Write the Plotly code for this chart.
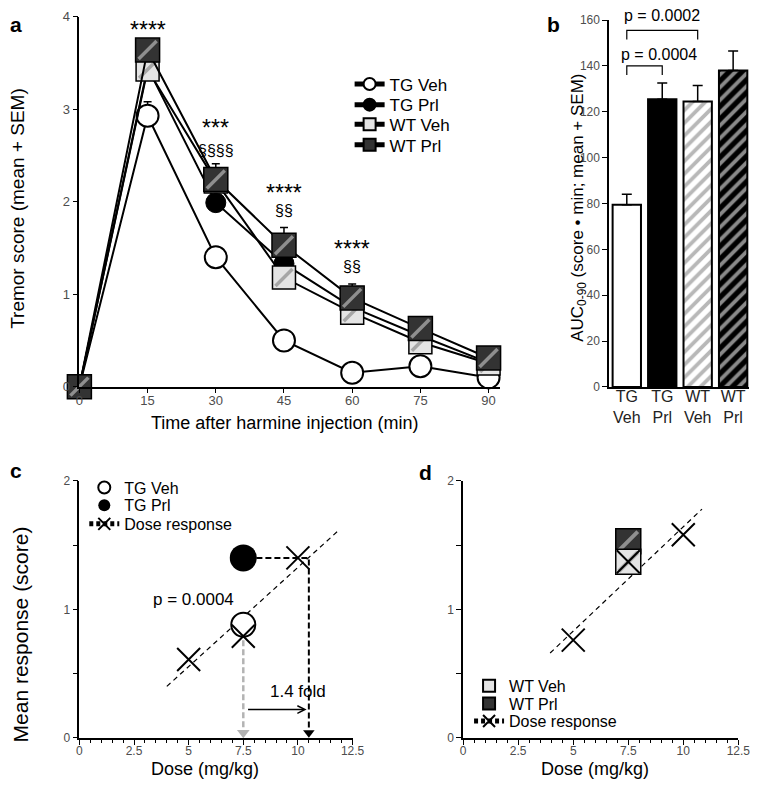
import plotly.graph_objects as go

W, H = 765, 788
FONT = "Liberation Sans, Arial, sans-serif"

# ---------------- Panel a data ----------------
time_min = [0, 15, 30, 45, 60, 75, 90]
tg_veh = [0, 2.93, 1.40, 0.50, 0.15, 0.22, 0.10]
tg_prl = [0, 3.45, 1.99, 1.33, 0.86, 0.55, 0.26]
wt_veh = [0, 3.43, 2.22, 1.18, 0.80, 0.48, 0.25]
wt_prl = [0, 3.64, 2.24, 1.53, 0.96, 0.63, 0.31]
tg_veh_sem = [0, 0.15, 0.05, 0.04, 0.03, 0.03, 0.02]
wt_prl_sem = [0, 0.08, 0.17, 0.19, 0.15, 0.06, 0.05]
star_x = [15, 30, 45, 60]
star_y = [3.90, 2.84, 2.14, 1.53]
star_text = ["****", "***", "****", "****"]
sect_x = [30, 45, 60]
sect_y = [2.55, 1.90, 1.30]
sect_text = ["§§§§", "§§", "§§"]

# ---------------- Panel b data ----------------
groups = ["TG<br>Veh", "TG<br>Prl", "WT<br>Veh", "WT<br>Prl"]
auc = [79.5, 125.5, 124.5, 138.0]
auc_sem = [4.5, 7.0, 7.0, 8.5]
bracket1_y = [136, 140, 140, 136]
bracket2_y = [151.5, 155.5, 155.5, 151.5]
p_texts = ["p = 0.0004", "p = 0.0002"]

# ---------------- Panel c data ----------------
dose_c = [5, 7.5, 10]
resp_c = [0.61, 0.79, 1.40]
tgveh_c_dose, tgveh_c_resp = [7.5], [0.88]
tgprl_c_dose, tgprl_c_resp = [7.5], [1.40]
fit_c_x = [4.0, 11.9]
fit_c_y = [0.40, 1.62]
equiv_dose = 10.5
gray_drop_x = [7.5, 7.5]
gray_drop_y = [0.76, 0.07]
black_path_x = [8.1, 10.5, 10.5]
black_path_y = [1.40, 1.40, 0.07]
fold_arrow_x = [7.65, 10.4]
fold_arrow_y = 0.22

# ---------------- Panel d data ----------------
dose_d = [5, 7.5, 10]
resp_d = [0.76, 1.37, 1.58]
wtveh_d_dose, wtveh_d_resp = [7.5], [1.37]
wtprl_d_dose, wtprl_d_resp = [7.5], [1.53]
fit_d_x = [3.95, 10.85]
fit_d_y = [0.66, 1.78]


def dx(p0, p1):
    return [p0 / W, p1 / W]


def dy(pb, pt):
    return [1 - pb / H, 1 - pt / H]


fig = go.Figure()

# ---------- Panel a traces ----------
ax_a = dict(xaxis="x", yaxis="y", cliponaxis=False)
fig.add_trace(go.Scatter(x=time_min, y=tg_veh, name="TG Veh", mode="lines+markers", legend="legend",
                         line=dict(color="black", width=2),
                         marker=dict(symbol="circle", size=22, color="white",
                                     line=dict(color="black", width=2)),
                         error_y=dict(type="data", array=tg_veh_sem, arrayminus=[0] * 7,
                                      symmetric=False, color="black", thickness=1.5, width=4),
                         **ax_a))
fig.add_trace(go.Scatter(x=time_min, y=tg_prl, name="TG Prl", mode="lines+markers", legend="legend2",
                         line=dict(color="black", width=2),
                         marker=dict(symbol="circle", size=20, color="black",
                                     line=dict(color="black", width=1)),
                         **ax_a))
fig.add_trace(go.Scatter(x=time_min, y=wt_veh, name="WT Veh", mode="lines+markers", legend="legend3",
                         line=dict(color="black", width=2),
                         marker=dict(symbol="square", size=23, color="#e4e4e4",
                                     line=dict(color="black", width=1.5)),
                         **ax_a))
fig.add_trace(go.Scatter(x=time_min, y=wt_veh, mode="markers", showlegend=False,
                         marker=dict(symbol="line-ne", size=17,
                                     line=dict(color="#a6a6a6", width=3.5)),
                         hoverinfo="skip", **ax_a))
fig.add_trace(go.Scatter(x=time_min, y=wt_prl, name="WT Prl", mode="lines+markers", legend="legend4",
                         line=dict(color="black", width=2),
                         marker=dict(symbol="square", size=24, color="#333333",
                                     line=dict(color="black", width=1.5)),
                         error_y=dict(type="data", array=wt_prl_sem, arrayminus=[0] * 7,
                                      symmetric=False, color="black", thickness=1.5, width=4),
                         **ax_a))
fig.add_trace(go.Scatter(x=time_min, y=wt_prl, mode="markers", showlegend=False,
                         marker=dict(symbol="line-ne", size=18,
                                     line=dict(color="#8f8f8f", width=3.5)),
                         hoverinfo="skip", **ax_a))

# ---------- Panel b traces ----------
bar_bg = ["white", "black", "white", "black"]
bar_shape = ["", "", "/", "/"]
bar_fg = ["black", "black", "#b8b8b8", "#8a8a8a"]
for i, g in enumerate(groups):
    fig.add_trace(go.Bar(x=[g], y=[auc[i]], width=0.8, showlegend=False,
                         marker=dict(color=bar_bg[i], line=dict(color="black", width=2),
                                     pattern=dict(shape=bar_shape[i], fgcolor=bar_fg[i],
                                                  bgcolor=bar_bg[i], size=9, solidity=0.42,
                                                  fillmode="replace")),
                         error_y=dict(type="data", array=[auc_sem[i]], arrayminus=[0],
                                      symmetric=False, color="black", thickness=1.5, width=5),
                         xaxis="x2", yaxis="y2"))
fig.add_trace(go.Scatter(x=[groups[0], groups[0], groups[1], groups[1]], y=bracket1_y,
                         mode="lines", line=dict(color="black", width=1.2),
                         showlegend=False, xaxis="x2", yaxis="y2", hoverinfo="skip"))
fig.add_trace(go.Scatter(x=[groups[0], groups[0], groups[2], groups[2]], y=bracket2_y,
                         mode="lines", line=dict(color="black", width=1.2),
                         showlegend=False, xaxis="x2", yaxis="y2", hoverinfo="skip"))

# ---------- Panel c traces ----------
ax_c = dict(xaxis="x3", yaxis="y3", cliponaxis=False)
fig.add_trace(go.Scatter(x=fit_c_x, y=fit_c_y, mode="lines", showlegend=False,
                         line=dict(color="black", width=1.2, dash="5px,4px"), **ax_c))
fig.add_trace(go.Scatter(x=gray_drop_x, y=gray_drop_y, mode="lines", showlegend=False,
                         line=dict(color="#b3b3b3", width=2.5, dash="6px,3px"), **ax_c))
fig.add_trace(go.Scatter(x=[gray_drop_x[1]], y=[0.04], mode="markers", showlegend=False,
                         marker=dict(symbol="triangle-down", size=11, color="#b3b3b3"), **ax_c))
fig.add_trace(go.Scatter(x=black_path_x, y=black_path_y, mode="lines", showlegend=False,
                         line=dict(color="black", width=2, dash="6px,3px"), **ax_c))
fig.add_trace(go.Scatter(x=[equiv_dose], y=[0.04], mode="markers", showlegend=False,
                         marker=dict(symbol="triangle-down", size=10, color="black"), **ax_c))
fig.add_trace(go.Scatter(x=tgveh_c_dose, y=tgveh_c_resp, name="TG Veh", mode="markers",
                         legend="legend5",
                         marker=dict(symbol="circle", size=24, color="white",
                                     line=dict(color="black", width=2)), **ax_c))
fig.add_trace(go.Scatter(x=tgprl_c_dose, y=tgprl_c_resp, name="TG Prl", mode="markers",
                         legend="legend6",
                         marker=dict(symbol="circle", size=27, color="black"), **ax_c))
fig.add_trace(go.Scatter(x=dose_c, y=resp_c, mode="markers", showlegend=False,
                         marker=dict(symbol="x-thin", size=23, color="black",
                                     line=dict(color="black", width=2)), **ax_c))
fig.add_trace(go.Scatter(x=[None], y=[None], name="Dose response", mode="lines+markers",
                         legend="legend7",
                         line=dict(color="black", width=1, dash="4px,3px"),
                         marker=dict(symbol="x-thin", size=12, color="black",
                                     line=dict(color="black", width=2)), **ax_c))

# ---------- Panel d traces ----------
ax_d = dict(xaxis="x4", yaxis="y4", cliponaxis=False)
fig.add_trace(go.Scatter(x=fit_d_x, y=fit_d_y, mode="lines", showlegend=False,
                         line=dict(color="black", width=1.2, dash="5px,4px"), **ax_d))
fig.add_trace(go.Scatter(x=wtprl_d_dose, y=wtprl_d_resp, name="WT Prl", mode="markers",
                         legend="legend9",
                         marker=dict(symbol="square", size=25, color="#333333",
                                     line=dict(color="black", width=1.5)), **ax_d))
fig.add_trace(go.Scatter(x=wtprl_d_dose, y=wtprl_d_resp, mode="markers", showlegend=False,
                         marker=dict(symbol="line-ne", size=19, line=dict(color="#8f8f8f", width=4)),
                         **ax_d))
fig.add_trace(go.Scatter(x=wtveh_d_dose, y=wtveh_d_resp, name="WT Veh", mode="markers",
                         legend="legend8",
                         marker=dict(symbol="square", size=25, color="#e4e4e4",
                                     line=dict(color="black", width=1.5)), **ax_d))
fig.add_trace(go.Scatter(x=wtveh_d_dose, y=wtveh_d_resp, mode="markers", showlegend=False,
                         marker=dict(symbol="line-ne", size=19, line=dict(color="#a6a6a6", width=4)),
                         **ax_d))
fig.add_trace(go.Scatter(x=dose_d, y=resp_d, mode="markers", showlegend=False,
                         marker=dict(symbol="x-thin", size=23, color="black",
                                     line=dict(color="black", width=2)), **ax_d))
fig.add_trace(go.Scatter(x=[None], y=[None], name="Dose response", mode="lines+markers",
                         legend="legend10",
                         line=dict(color="black", width=1, dash="4px,3px"),
                         marker=dict(symbol="x-thin", size=12, color="black",
                                     line=dict(color="black", width=2)), **ax_d))

# ---------- Axes ----------
base = dict(showline=True, linecolor="black", linewidth=1.5, ticks="outside", ticklen=5,
            tickwidth=1.2, tickcolor="black", showgrid=False, zeroline=False,
            tickfont=dict(size=13, color="#4d4d4d", family=FONT), fixedrange=True)

minor = dict(ticks="outside", ticklen=3, tickwidth=1, tickcolor="black", dtick=0.5, tick0=0,
             showgrid=False)
small_tf = dict(size=12, color="#4d4d4d", family=FONT)

fig.update_layout(
    barmode="overlay",
    xaxis=dict(base, domain=dx(77, 507), range=[0, 92.6], tickvals=time_min, anchor="y",
               ticklabelstandoff=-4),
    yaxis=dict(base, domain=dy(387, 10), range=[0, 4], dtick=1, anchor="x"),
    xaxis2=dict(base, domain=dx(618, 761), range=[-0.5, 3.45], ticks="", anchor="y2",
                tickfont=dict(size=16, color="#222222", family=FONT), ticklabelstandoff=-6),
    yaxis2=dict(base, domain=dy(387.3, 13.3), range=[0, 160], dtick=20, anchor="x2",
                tickfont=small_tf),
    xaxis3=dict(base, domain=dx(77, 356), range=[0, 12.5], dtick=2.5, tick0=0, anchor="y3",
                minor=minor, ticklabelstandoff=-4, tickfont=small_tf),
    yaxis3=dict(base, domain=dy(745, 483), range=[0, 2], dtick=1, anchor="x3",
                minor=dict(minor, ticklen=5), tickfont=small_tf),
    xaxis4=dict(base, domain=dx(469, 750), range=[0, 12.5], dtick=2.5, tick0=0, anchor="y4",
                minor=minor, ticklabelstandoff=-4, tickfont=small_tf),
    yaxis4=dict(base, domain=dy(745, 483), range=[0, 2], dtick=1, anchor="x4",
                minor=dict(minor, ticklen=5), tickfont=small_tf),
)

# ---------- Legends (one per entry, so rows can sit where the reference has them) ----------
leg_base = dict(xanchor="left", yanchor="middle", bgcolor="rgba(0,0,0,0)", itemsizing="constant",
                borderwidth=0)


def leg(xpx, ypx, size):
    return dict(leg_base, x=xpx / W, y=1 - ypx / H, font=dict(size=size, family=FONT))


fig.update_layout(
    width=W, height=H, margin=dict(l=0, r=0, t=0, b=0),
    paper_bgcolor="white", plot_bgcolor="rgba(0,0,0,0)",
    font=dict(family=FONT, color="black"),
    showlegend=True,
    legend=leg(353, 79, 17), legend2=leg(353, 100, 17),
    legend3=leg(353, 120, 17), legend4=leg(353, 141, 17),
    legend5=leg(82, 490, 16), legend6=leg(82, 508, 16), legend7=leg(82, 527, 16),
    legend8=leg(475, 692, 16), legend9=leg(475, 710, 16), legend10=leg(475, 728, 16),
)

# ---------- Annotations ----------
ann = []
for sx, sy, st in zip(star_x, star_y, star_text):
    ann.append(dict(x=sx, y=sy, xref="x", yref="y", text=st, showarrow=False, yshift=-4,
                    font=dict(size=23, family=FONT)))
for sx, sy, st in zip(sect_x, sect_y, sect_text):
    ann.append(dict(x=sx, y=sy, xref="x", yref="y", text=st, showarrow=False,
                    font=dict(size=16, family=FONT)))

ann.append(dict(x=0.9, y=145, xref="x2", yref="y2", text=p_texts[0], showarrow=False,
                font=dict(size=16, family=FONT)))
ann.append(dict(x=1.0, y=1.0, xref="x2", yref="y2 domain", text=p_texts[1], showarrow=False,
                yanchor="middle", yshift=5, font=dict(size=16, family=FONT)))

ann.append(dict(x=5.2, y=1.08, xref="x3", yref="y3", text=p_texts[0], showarrow=False,
                font=dict(size=17, family=FONT)))
ann.append(dict(x=10.0, y=0.36, xref="x3", yref="y3", text="1.4 fold", showarrow=False,
                font=dict(size=17, family=FONT)))
ann.append(dict(x=fold_arrow_x[1], y=fold_arrow_y, ax=fold_arrow_x[0], ay=fold_arrow_y,
                xref="x3", yref="y3", axref="x3", ayref="y3", text="", showarrow=True,
                arrowhead=5, arrowsize=1, arrowwidth=1.5, arrowcolor="black"))


def pa(x, y, text, size=18, angle=0, bold=False):
    t = f"<b>{text}</b>" if bold else text
    return dict(x=x / W, y=1 - y / H, xref="paper", yref="paper", text=t, showarrow=False,
                textangle=angle, font=dict(size=size, family=FONT, color="black"),
                xanchor="center", yanchor="middle")


ann += [
    pa(13, 205, "Tremor score (mean + SEM)", 19, -90),
    pa(286, 424, "Time after harmine injection (min)", 18),
    pa(587, 205, "AUC<sub>0-90</sub> (score • min; mean + SEM)", 17, -90),
    pa(17, 640, "Mean response (score)", 21, -90),
    pa(205, 777, "Dose (mg/kg)", 18),
    pa(604, 777, "Dose (mg/kg)", 18),
    pa(12, 18, "a", 21, bold=True),
    pa(561, 18, "b", 21, bold=True),
    pa(12, 472, "c", 21, bold=True),
    pa(430, 475, "d", 21, bold=True),
]
fig.update_layout(annotations=ann)

fig.write_html(
    "out.html",
    config={"displayModeBar": False, "responsive": False},
    post_script=(
        "document.documentElement.style.margin='0px';"
        "document.documentElement.style.padding='0px';"
        "document.documentElement.style.overflow='hidden';"
        "document.body.style.margin='0px';"
        "document.body.style.padding='0px';"
        "document.body.style.overflow='hidden';"
    ),
)
